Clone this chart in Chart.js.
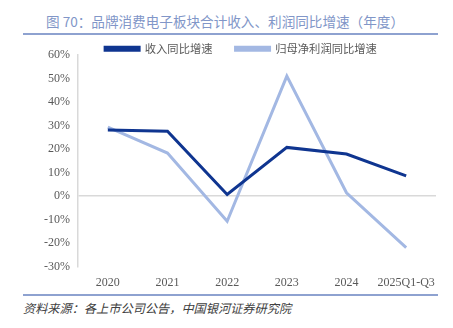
<!DOCTYPE html>
<html lang="zh">
<head>
  <meta charset="UTF-8">
  <title>品牌消费电子板块合计收入、利润同比增速</title>
  <script src="https://cdn.jsdelivr.net/npm/chart.js"></script>
  <style>
    body {
      margin: 0;
      width: 453px;
      height: 328px;
      background: #fff;
      position: relative;
      overflow: hidden;
    }
    .title {
      position: absolute;
      left: 46px;
      top: 11px;
      font-family: "Noto Sans CJK SC", sans-serif;
      font-size: 13.6px;
      color: #8196c8;
      white-space: nowrap;
    }
    .rule {
      position: absolute;
      left: 23px;
      width: 415px;
      height: 1.5px;
      background: #8ea2d0;
    }
    .wrap {
      position: absolute;
      left: 0;
      top: 20px;
      width: 453px;
      height: 271px;
    }
    .source {
      position: absolute;
      left: 23px;
      top: 299px;
      font-family: "Noto Sans CJK SC", sans-serif;
      font-style: italic;
      font-size: 12.2px;
      color: #404040;
      white-space: nowrap;
    }
  </style>
</head>
<body>
  <div class="title">图 70：品牌消费电子板块合计收入、利润同比增速（年度）</div>
  <div class="rule" style="top:33px"></div>
  <div class="wrap"><canvas id="c"></canvas></div>
  <div class="rule" style="top:294px"></div>
  <div class="source">资料来源：各上市公司公告，中国银河证券研究院</div>

  <script>
    // 数据
    const years = ['2020', '2021', '2022', '2023', '2024', '2025Q1-Q3'];
    const revenueGrowth = [28.1, 27.6, 0.7, 20.7, 17.9, 8.6];   // 收入同比增速
    const profitGrowth = [29.3, 18.3, -10.7, 51.0, 1.4, -21.9]; // 归母净利润同比增速

    const serif = '"Liberation Serif", "Times New Roman", serif';

    // 图例整体稍微右移
    const legendShift = {
      id: 'legendShift',
      afterLayout(c) {
        c.legend.left += 5;
        c.legend.right += 5;
      }
    };

    const chart = new Chart(document.getElementById('c'), {
      type: 'line',
      data: {
        labels: years,
        datasets: [{
          label: '收入同比增速',
          data: revenueGrowth,
          borderColor: '#0f3590',
          backgroundColor: '#0f3590',
          borderWidth: 3,
          pointRadius: 0,
          tension: 0
        }, {
          label: '归母净利润同比增速',
          data: profitGrowth,
          borderColor: '#a3b8e3',
          backgroundColor: '#a3b8e3',
          borderWidth: 3,
          pointRadius: 0,
          tension: 0
        }]
      },
      options: {
        responsive: true,
        maintainAspectRatio: false,
        animation: false,
        layout: { padding: { left: 36, right: 17, top: 0, bottom: 0 } },
        plugins: {
          tooltip: { enabled: false },
          legend: {
            position: 'top',
            labels: {
              boxWidth: 34,
              boxHeight: 3,
              padding: 23,
              color: '#595959',
              font: { family: '"Noto Sans CJK SC", sans-serif', size: 11.3 }
            }
          }
        },
        scales: {
          x: {
            offset: true,
            grid: { display: false },
            border: { display: false },
            ticks: { color: '#595959', font: { family: serif, size: 12 }, padding: 1, maxRotation: 0, autoSkip: false }
          },
          y: {
            min: -30,
            max: 60,
            grid: {
              drawTicks: false,
              color: ctx => ctx.tick && ctx.tick.value === 0 ? '#d9d9d9' : 'rgba(0,0,0,0)',
              lineWidth: 1.5
            },
            border: { display: true, color: '#d9d9d9', width: 1.5 },
            ticks: {
              stepSize: 10,
              padding: 8,
              color: '#595959',
              font: { family: serif, size: 12 },
              callback: v => v + '%'
            }
          }
        }
      },
      plugins: [legendShift]
    });

    // 图例紧贴绘图区：压低图例占用的高度
    const legendFit = chart.legend.fit;
    chart.legend.fit = function () {
      legendFit.call(this);
      this.height = 35;
    };
    chart.update();
  </script>
</body>
</html>
